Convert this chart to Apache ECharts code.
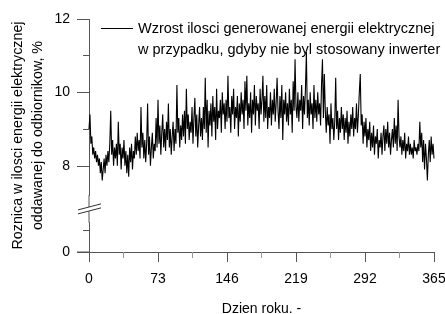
<!DOCTYPE html>
<html>
<head>
<meta charset="utf-8">
<script src="https://cdn.jsdelivr.net/npm/echarts@6/dist/echarts.min.js"></script>
<style>
  html, body { margin: 0; padding: 0; background: #fff; }
  #chart { width: 445px; height: 314px; }
</style>
</head>
<body>
<div id="chart"></div>
<script>
// dzienne wartosci (dzien 0..365)
const dayValues = [
  9.0, 9.4, 8.6, 8.8, 8.3, 8.5, 8.2, 8.4, 8.1, 8.3,
  8.0, 8.2, 7.8, 8.1, 7.6, 7.9, 8.2, 7.8, 8.3, 8.0,
  8.4, 8.1, 8.6, 9.5, 8.3, 8.7, 8.0, 8.5, 8.2, 8.6,
  8.0, 9.2, 8.3, 8.6, 7.9, 8.5, 8.2, 8.7, 8.0, 8.4,
  7.8, 8.3, 7.7, 8.5, 8.1, 8.6, 7.9, 8.4, 8.2, 8.8,
  8.3, 8.9, 8.4, 8.7, 8.2, 9.6, 8.5, 8.9, 8.2, 8.7,
  8.1, 8.6, 9.7, 8.3, 8.8, 8.0, 8.5, 8.9, 8.2, 8.6,
  8.4, 9.3, 8.5, 9.8, 8.6, 9.1, 8.3, 8.9, 9.4, 8.5,
  9.0, 8.4, 9.2, 8.7, 9.7, 8.5, 9.0, 8.3, 8.8, 9.2,
  8.4, 9.0, 8.6, 10.2, 8.9, 9.3, 8.5, 9.1, 8.7, 9.4,
  8.8, 9.5, 8.6, 10.1, 9.0, 9.4, 8.7, 9.2, 8.9, 9.6,
  8.6, 9.3, 9.85, 8.8, 9.4, 8.5, 9.1, 9.6, 8.8, 9.3,
  8.7, 9.6, 9.0, 10.4, 8.9, 9.8, 8.5, 9.5, 9.1, 9.7,
  8.8, 9.9, 9.2, 9.6, 8.7, 10.1, 9.0, 9.5, 9.3, 9.8,
  8.9, 10.0, 9.4, 9.7, 9.0, 9.8, 9.2, 10.45, 9.3, 9.6,
  8.9, 9.9, 9.4, 10.1, 9.0, 9.6, 9.3, 9.9, 8.8, 9.7,
  9.2, 10.0, 9.4, 9.8, 9.0, 10.3, 9.5, 10.45, 9.1, 9.7,
  9.3, 10.0, 8.9, 9.8, 9.4, 10.2, 9.1, 9.9, 9.5, 9.7,
  9.0, 10.1, 9.4, 9.8, 10.45, 9.2, 9.9, 9.3, 10.2, 9.0,
  9.6, 9.3, 10.0, 9.1, 9.8, 9.4, 10.1, 9.2, 9.7, 10.4,
  9.5, 9.0, 9.9, 9.3, 10.2, 8.7, 9.8, 9.4, 10.0, 9.2,
  9.7, 9.1, 10.1, 9.4, 9.8, 8.9, 10.3, 9.5, 10.9, 9.6,
  9.3, 10.0, 9.2, 9.8, 9.5, 10.2, 9.0, 9.9, 9.4, 10.1,
  11.1, 9.3, 9.8, 9.1, 10.0, 9.4, 9.7, 9.0, 10.2, 9.3,
  9.8, 9.2, 10.0, 9.4, 9.7, 9.1, 10.2, 10.9, 9.3, 10.5,
  9.5, 8.9, 9.6, 9.1, 9.4, 8.6, 9.7, 9.0, 9.3, 8.7,
  9.2, 10.4, 9.0, 9.5, 8.7, 9.3, 8.9, 9.6, 9.0, 9.4,
  8.7, 9.3, 8.9, 9.5, 8.6, 9.2, 8.8, 9.4, 9.0, 9.6,
  8.8, 9.3, 9.0, 9.7, 8.9, 9.4, 10.0, 10.5, 9.1, 9.4,
  8.6, 9.2, 8.8, 9.3, 8.5, 9.0, 8.7, 9.2, 8.4, 8.9,
  8.5, 9.1, 8.3, 8.8, 8.6, 9.0, 8.2, 8.7, 8.5, 8.9,
  8.3, 8.8, 9.1, 8.4, 9.0, 8.6, 9.2, 8.5, 8.9, 8.3,
  8.7, 9.0, 8.5, 9.3, 8.6, 9.1, 8.4, 9.8, 8.8, 8.5,
  8.8, 8.3, 8.7, 8.4, 8.9, 8.2, 8.6, 8.4, 8.8, 8.3,
  8.6, 8.3, 8.5, 8.2, 8.7, 8.4, 8.5, 8.3, 8.6, 8.4,
  9.2, 8.5, 8.9, 8.1, 8.7, 7.9, 8.6, 8.2, 7.6, 8.3,
  8.7, 8.1, 8.8, 8.3, 8.6, 8.2
];
const xTicks = [0, 73, 146, 219, 292, 365];
const yTicks = [0, 8, 10, 12];
const yMinorTicks = [0.6, 9, 11];
const yBreak = [0.8, 7.2];
const seriesName = 'Wzrost ilosci generowanej energii elektrycznej\nw przypadku, gdyby nie byl stosowany inwerter';

const FONT = 'Liberation Sans, Arial, sans-serif';
const AXIS_COLOR = '#555';

const chart = echarts.init(document.getElementById('chart'));

const lineData = dayValues.map((v, i) => [i, v]);

// wspolne ustawienia osi Y (z przerwaniem)
const yBase = {
  type: 'value',
  min: yTicks[0],
  max: yTicks[yTicks.length - 1],
  interval: 2,
  position: 'left',
  breaks: [{ start: yBreak[0], end: yBreak[1], gap: 0.75 }],
  breakArea: { show: false },
  splitLine: { show: false }
};

chart.setOption({
  animation: false,
  backgroundColor: '#fff',
  textStyle: { fontFamily: FONT },
  grid: { left: 89, right: 11, top: 19, bottom: 62, outerBoundsMode: 'none', containLabel: false },
  legend: {
    left: 101,
    top: -3,
    padding: 0,
    itemWidth: 32,
    itemHeight: 1,
    icon: 'rect',
    data: [seriesName],
    formatter: name => ' \n' + name,
    textStyle: { fontSize: 14.5, color: '#000', lineHeight: 21 }
  },
  xAxis: {
    type: 'value',
    min: xTicks[0],
    max: xTicks[xTicks.length - 1],
    interval: 73,
    name: 'Dzien roku. -',
    nameLocation: 'middle',
    nameGap: 50,
    nameMoveOverlap: false,
    nameTextStyle: { fontSize: 14, color: '#000' },
    axisLine: { show: true, lineStyle: { color: AXIS_COLOR, width: 1 } },
    axisTick: { show: true, inside: false, length: 10, lineStyle: { color: AXIS_COLOR } },
    minorTick: { show: true, splitNumber: 2, length: 6, lineStyle: { color: '#999' } },
    axisLabel: { fontSize: 14, color: '#000', margin: 20 },
    splitLine: { show: false }
  },
  yAxis: [
    Object.assign({}, yBase, {
      name: 'Roznica w ilosci energii elektrycznej\noddawanej do odbiornikow, %',
      nameLocation: 'middle',
      nameGap: 41,
      nameMoveOverlap: false,
      nameRotate: 90,
      nameTextStyle: { fontSize: 14.3, color: '#000', lineHeight: 20 },
      axisLine: { show: true, lineStyle: { color: AXIS_COLOR, width: 1 } },
      axisTick: { show: true, inside: false, length: 12, customValues: yTicks, lineStyle: { color: AXIS_COLOR } },
      axisLabel: { fontSize: 14, color: '#000', margin: 19, customValues: yTicks }
    }),
    Object.assign({}, yBase, {
      axisLine: { show: false },
      axisTick: { show: true, inside: false, length: 6, customValues: yMinorTicks, lineStyle: { color: AXIS_COLOR } },
      axisLabel: { show: false }
    })
  ],
  series: [{
    name: seriesName,
    type: 'line',
    data: lineData,
    yAxisIndex: 0,
    showSymbol: false,
    sampling: null,
    color: '#000',
    lineStyle: { color: '#000', width: 1.1 },
    emphasis: { disabled: true }
  }]
});

// znak przerwania osi Y + przedluzenie osi X w lewo
const yLo = chart.convertToPixel({ yAxisIndex: 0 }, yBreak[0]);
const yHi = chart.convertToPixel({ yAxisIndex: 0 }, yBreak[1]);
const yMid = (yLo + yHi) / 2;
const yZero = chart.convertToPixel({ yAxisIndex: 0 }, 0);
const xZero = chart.convertToPixel({ xAxisIndex: 0 }, 0);
chart.setOption({
  graphic: [
    { type: 'line', shape: { x1: xZero - 12, y1: yZero, x2: xZero, y2: yZero }, style: { stroke: AXIS_COLOR, lineWidth: 1 }, z: 100 },
    { type: 'line', shape: { x1: xZero, y1: yHi, x2: xZero, y2: yLo }, style: { stroke: AXIS_COLOR, lineWidth: 1 }, z: 99 },
    { type: 'polygon', shape: { points: [[78, yMid + 5], [101, yMid - 1], [101, yMid - 5], [78, yMid + 1]] }, style: { fill: '#fff' }, z: 100 },
    { type: 'line', shape: { x1: 78, y1: yMid + 5, x2: 101, y2: yMid - 1 }, style: { stroke: '#333', lineWidth: 1 }, z: 101 },
    { type: 'line', shape: { x1: 78, y1: yMid + 1, x2: 101, y2: yMid - 5 }, style: { stroke: '#333', lineWidth: 1 }, z: 101 }
  ]
});
</script>
</body>
</html>
